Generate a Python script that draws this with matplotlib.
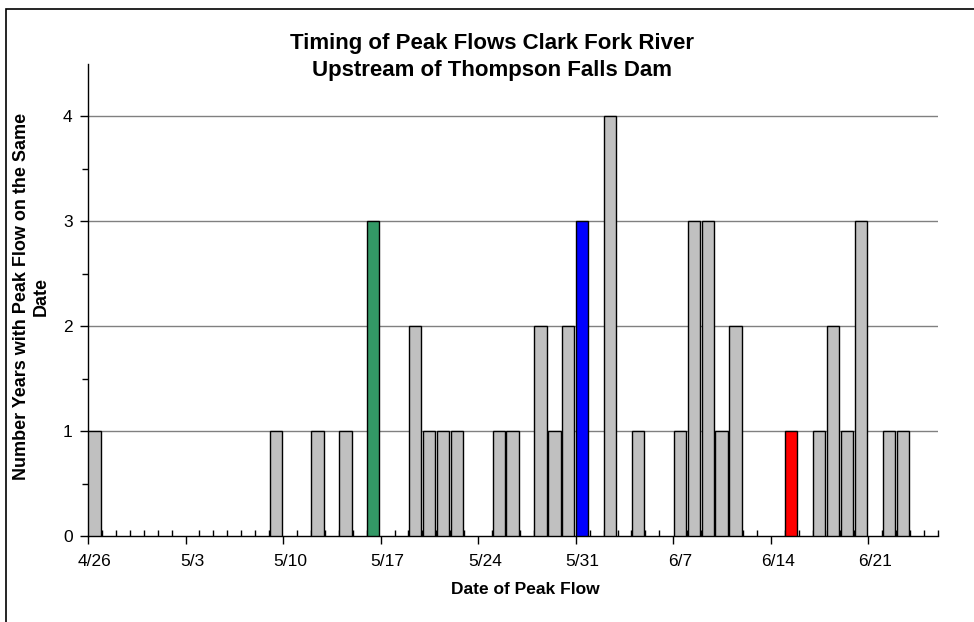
import numpy as np
import matplotlib.pyplot as plt
from matplotlib.patches import Rectangle

plt.rcParams['font.family'] = ['Liberation Sans', 'DejaVu Sans']

# day 0 = 4/26, axis runs to 6/26
days = np.array([0, 13, 16, 18, 20, 23, 24, 25, 26, 29, 30, 32, 33, 34, 35,
                 37, 39, 42, 43, 44, 45, 46, 50, 52, 53, 54, 55, 57, 58])
counts = np.array([1, 1, 1, 1, 3, 2, 1, 1, 1, 1, 1, 2, 1, 2, 3,
                   4, 1, 1, 3, 3, 1, 2, 1, 1, 2, 1, 3, 1, 1])
highlight = {20: '#339966', 35: '#0000FF', 50: '#FF0000'}
tick_days = np.arange(0, 62, 7)
tick_labels = ['4/26', '5/3', '5/10', '5/17', '5/24', '5/31', '6/7', '6/14', '6/21']
n_days = 61

colors = [highlight.get(d, '#C0C0C0') for d in days]

fig = plt.figure(figsize=(9.74, 6.22), dpi=100)
ax = fig.add_axes([88 / 974, 1 - 536 / 622, 850 / 974, 472.5 / 622])

ax.bar(days + 0.03, counts, width=0.88, align='edge', color=colors,
       edgecolor='black', linewidth=1.0, zorder=3)

ax.set_xlim(0, n_days)
ax.set_ylim(0, 4.5)

# y axis
ax.set_yticks([0, 1, 2, 3, 4])
ax.set_yticks(np.arange(0.5, 4.5, 1), minor=True)
ax.tick_params(axis='y', which='major', direction='out', length=6, width=1,
               labelsize=12.5, pad=5)
ax.tick_params(axis='y', which='minor', direction='out', length=4, width=1)
for yv in [1, 2, 3, 4]:
    ax.axhline(yv, color='#808080', linewidth=1, zorder=1)

# x axis: week ticks out, day ticks in, labels centred in the day slot
ax.set_xticks(tick_days)
ax.set_xticklabels([])
ax.set_xticks(np.arange(0, n_days + 1), minor=True)
ax.tick_params(axis='x', which='major', direction='out', length=6, width=1)
ax.tick_params(axis='x', which='minor', direction='in', length=4, width=1)
for d, lab in zip(tick_days, tick_labels):
    ax.text(d + 0.5, -26 / 472.5, lab, transform=ax.get_xaxis_transform(),
            ha='center', va='center', fontsize=12.5)

for s in ['top', 'right']:
    ax.spines[s].set_visible(False)
for s in ['left', 'bottom']:
    ax.spines[s].set_linewidth(1)

xl = ax.set_xlabel('Date of Peak Flow', fontsize=12.5, fontweight='bold')
xl.set_va('center')
ax.xaxis.set_label_coords((525 - 88) / 850, -(590 - 536) / 472.5)
yl = ax.set_ylabel('Number Years with Peak Flow on the Same\nDate', fontsize=13,
                   fontweight='bold')
yl.set_va('center')
ax.yaxis.set_label_coords((31 - 88) / 850, (536 - 296) / 472.5)

fig.text(492 / 974, 1 - 57 / 622, 'Timing of Peak Flows Clark Fork River\nUpstream of Thompson Falls Dam',
         ha='center', va='center', fontsize=16, fontweight='bold', linespacing=1.4)

# chart border (only left and top visible in the crop)
fig.patches.append(Rectangle((6 / 974, -0.1), 1.2, 1.1 - 9 / 622,
                             transform=fig.transFigure, fill=False,
                             edgecolor='black', linewidth=1.2))

fig.savefig('out.png', dpi=100)
